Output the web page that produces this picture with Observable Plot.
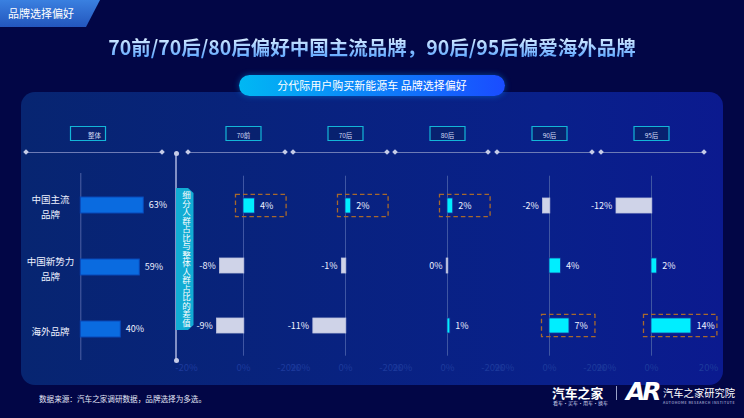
<!DOCTYPE html>
<html><head><meta charset="utf-8">
<script src="https://cdn.jsdelivr.net/npm/d3@7"></script>
<script src="https://cdn.jsdelivr.net/npm/@observablehq/plot@0.6"></script>
<style>
html,body{margin:0;padding:0;background:#020646;}
#page{position:relative;width:744px;height:418px;overflow:hidden;background:#020646;font-family:"Noto Sans CJK SC","Noto Sans",sans-serif;}
.abs{position:absolute;}
.tab{left:0;top:0;width:100px;height:27px;background:linear-gradient(180deg,#3a80e0,#2356bd);clip-path:polygon(0 0,100px 0,86px 27px,0 27px);color:#fff;font-size:11px;line-height:27px;padding-left:8px;box-sizing:border-box;}
.title{left:0;top:33px;width:744px;text-align:center;font-size:19.5px;font-weight:bold;line-height:28px;white-space:nowrap;}
.title span{background:linear-gradient(180deg,#e2f2ff 15%,#5aa4ff 90%);-webkit-background-clip:text;background-clip:text;color:transparent;}
.panel{left:21px;top:92px;width:702px;height:293px;border-radius:14px;background:linear-gradient(90deg,#072571 0%,#09208a 75%,#0b1a8f 100%);}
.pill{left:239px;top:75px;width:266px;height:21px;border-radius:11px;background:linear-gradient(90deg,#00b8f3,#1a4cff);color:#fff;font-size:11px;line-height:21px;text-align:center;box-shadow:0 0 6px rgba(0,150,255,.45);white-space:nowrap;}
.hline{height:1px;background:#6d7bb5;}
.dia{width:4px;height:4px;background:#c6cce8;transform:rotate(45deg);}
.vline{width:1.5px;background:#8290c6;}
.vdot{width:5px;height:5px;border-radius:50%;background:#c6cce8;}
.vtab{left:176px;top:188px;width:17.5px;height:142px;background:#12acd4;clip-path:polygon(0 0,12px 0,17.5px 5px,17.5px calc(100% - 5px),12px 100%,0 100%);writing-mode:vertical-rl;text-orientation:upright;color:#fff;font-size:8.5px;line-height:14px;text-align:center;letter-spacing:0;}
.src{left:39px;top:393px;font-size:7.6px;color:#e3e7f7;white-space:nowrap;}
.logo1{left:552px;top:384px;font-size:12.8px;font-weight:bold;color:#fff;white-space:nowrap;line-height:17px;}
.logo1s{left:553px;top:400px;font-size:5px;color:#cfd5ee;white-space:nowrap;line-height:6px;}
.sep{left:616px;top:386px;width:1px;height:14px;background:#9aa2c8;}
.ar{left:626px;top:378px;font-size:25px;font-weight:900;font-style:italic;color:#fff;letter-spacing:-3px;font-family:"DejaVu Sans",sans-serif;line-height:28px;}
.logo2{left:663px;top:386px;font-size:10.3px;color:#fff;white-space:nowrap;line-height:14px;}
.logo2s{left:663px;top:400px;font-size:3.6px;color:#cfd5ee;white-space:nowrap;letter-spacing:0.55px;line-height:5px;}
#chartA{left:0;top:110px;width:176px;height:270px;}
#chartB{left:150px;top:110px;width:590px;height:270px;}
svg{overflow:visible;}
</style></head>
<body>
<div id="page">
  <div class="abs tab">品牌选择偏好</div>
  <div class="abs title"><span>70前/70后/80后偏好中国主流品牌，90后/95后偏爱海外品牌</span></div>
  <div class="abs panel"></div>
  <div class="abs pill">分代际用户购买新能源车 品牌选择偏好</div>
  <div id="deco"></div>
  <div class="abs" id="chartA"></div>
  <div class="abs" id="chartB"></div>
  <div class="abs vtab">细分人群占比与整体人群占比的差值</div>
  <div class="abs src">数据来源：汽车之家调研数据，品牌选择为多选。</div>
  <div class="abs logo1">汽车之家</div>
  <div class="abs logo1s">看车·买车·用车·换车</div>
  <div class="abs sep"></div>
  <div class="abs ar">AR</div>
  <div class="abs logo2">汽车之家研究院</div>
  <div class="abs logo2s">AUTOHOME RESEARCH INSTITUTE</div>
</div>
<script>
// ---------- data ----------
const brands = ["中国主流品牌", "中国新势力品牌", "海外品牌"];
const brandLabels = ["中国主流\n品牌", "中国新势力\n品牌", "海外品牌"];
const overallTitle = "整体";
const overallShare = [63, 59, 40];
const gens = ["70前", "70后", "80后", "90后", "95后"];
const diffMainstream = [4, 2, 2, -2, -12];
const diffNewForce = [-8, -1, 0, 4, 2];
const diffOverseas = [-9, -11, 1, 7, 14];
const highlightBrand = ["中国主流品牌", "中国主流品牌", "中国主流品牌", "海外品牌", "海外品牌"];
const xTicks = [-20, 0, 20];

// ---------- tables ----------
const diffs = [diffMainstream, diffNewForce, diffOverseas];
const overallRows = brands.map((b, i) => ({brand: b, label: brandLabels[i], value: overallShare[i]}));
const rows = gens.flatMap((g, i) => brands.map((b, j) => ({gen: g, brand: b, value: diffs[j][i], highlight: highlightBrand[i] === b})));
const pct = d => d.value + "%";

// ---------- decoration (layout only) ----------
const deco = document.getElementById("deco");
function add(cls, css) { const e = document.createElement("div"); e.className = "abs " + cls; Object.assign(e.style, css); deco.appendChild(e); }
const axisY = 152;
const axisSpans = [[25.7, 161.5], [187.7, 284.7], [293, 387.3], [395.3, 488.3], [497, 592], [600.7, 704]];
for (const [a, b] of axisSpans) {
  add("hline", {left: a + "px", top: (axisY - 0.5) + "px", width: (b - a) + "px"});
  add("dia", {left: (a - 2) + "px", top: (axisY - 2) + "px"});
  add("dia", {left: (b - 2) + "px", top: (axisY - 2) + "px"});
}
add("vline", {left: "175.3px", top: "153px", height: "207px"});
add("vdot", {left: "173.5px", top: "151px"});
add("vdot", {left: "173.5px", top: "357.5px"});

// ---------- charts ----------
const FONT = '"Noto Sans CJK SC","Noto Sans",sans-serif';
const headerBox = {draw(ctx) { ctx.moveTo(-17.5, -7); ctx.lineTo(17.5, -7); ctx.lineTo(17.5, 7); ctx.lineTo(-17.5, 7); ctx.closePath(); }};
const white = "#eef1ff";

const plotA = Plot.plot({
  width: 176, height: 270,
  marginTop: 63, marginBottom: 20, marginLeft: 0, marginRight: 0,
  style: {background: "transparent", fontFamily: FONT, color: white, overflow: "visible"},
  x: {domain: [0, 100], range: [80.3, 180.3], axis: null},
  y: {domain: brands, range: [63, 250.2], paddingInner: 0.75, paddingOuter: 0.375, axis: null},
  marks: [
    Plot.ruleX([0], {stroke: "#4d61a6", strokeWidth: 1}),
    Plot.barX(overallRows, {x: "value", y: "brand", fill: "#0a6be0", stroke: "#0848b8", strokeWidth: 1}),
    Plot.text(overallRows, {x: "value", y: "brand", text: pct, dx: 5, textAnchor: "start", fill: white, fontSize: 9}),
    Plot.text(overallRows, {y: "brand", text: "label", frameAnchor: "left", dx: 50, textAnchor: "middle", fill: white, fontSize: 9.5, lineHeight: 1.65}),
    Plot.dot([overallTitle], {frameAnchor: "top-left", dx: 87.5, dy: -40, symbol: headerBox, fill: "#08216f", stroke: "#13b6d8", strokeWidth: 1.2}),
    Plot.text([overallTitle], {frameAnchor: "top-left", dx: 87.5, dy: -40, text: d => d, fill: "#d5dcf5", fontSize: 6.5})
  ]
});
document.getElementById("chartA").appendChild(plotA);

const plotB = Plot.plot({
  width: 590, height: 270,
  marginTop: 65.7, marginBottom: 24.3, marginLeft: 0, marginRight: 0,
  facet: {data: rows, x: "gen", marginTop: 0, marginRight: 0, marginBottom: 0, marginLeft: 0},
  fx: {domain: gens, range: [34.3, 546.8], padding: 0, axis: null},
  x: {domain: [-20, 20], range: [0, 114], ticks: xTicks, tickFormat: d => d + "%", tickSize: 0, tickPadding: 8, label: null},
  y: {domain: brands, range: [65.7, 245.7], paddingInner: 0.75, paddingOuter: 0.375, axis: null},
  style: {background: "transparent", fontFamily: FONT, fontSize: "9.5px", color: "#1d3a9c", overflow: "visible"},
  marks: [
    Plot.ruleX([0], {stroke: "#3f56a3", strokeWidth: 1}),
    Plot.barX(rows, {filter: d => d.highlight, x1: 0, x2: d => Math.max(d.value, 6), y: "brand",
      insetLeft: -7.5, insetRight: -26, insetTop: -3.6, insetBottom: -3.6,
      fill: "none", stroke: "#a8692c", strokeWidth: 1.3, strokeDasharray: "4.5,3"}),
    Plot.barX(rows, {filter: d => d.value > 0, x: "value", y: "brand", fill: "#00eeff", stroke: "#17379c", strokeWidth: 0.8}),
    Plot.barX(rows, {filter: d => d.value <= 0, x: "value", y: "brand", insetLeft: -0.8, insetRight: -0.8, fill: "#cfd3e8", stroke: "#bcc2df", strokeWidth: 0.8}),
    Plot.text(rows, {filter: d => d.value > 0, x: "value", y: "brand", text: pct, dx: 5, textAnchor: "start", fill: white, fontSize: 9}),
    Plot.text(rows, {filter: d => d.value <= 0, x: "value", y: "brand", text: pct, dx: -5, textAnchor: "end", fill: white, fontSize: 9}),
    Plot.dot(rows, {filter: d => d.brand === brands[0], x: () => 0, frameAnchor: "top", dy: -42.7, symbol: headerBox, fill: "#08216f", stroke: "#13b6d8", strokeWidth: 1.2}),
    Plot.text(rows, {filter: d => d.brand === brands[0], x: () => 0, frameAnchor: "top", dy: -42.7, text: "gen", fill: "#d5dcf5", fontSize: 6.5})
  ]
});
document.getElementById("chartB").appendChild(plotB);
</script>
</body></html>
